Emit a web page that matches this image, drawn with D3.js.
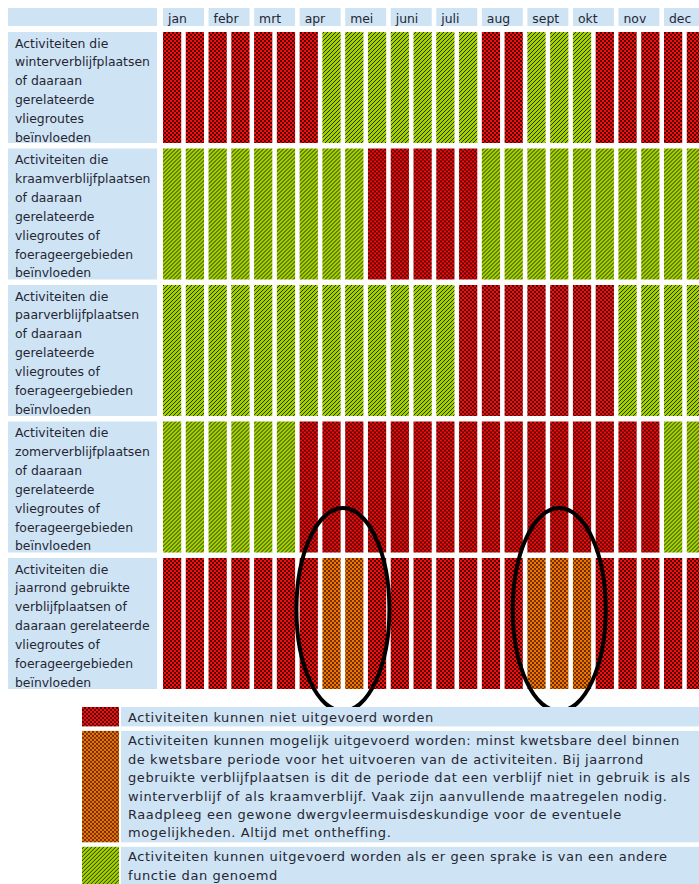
<!DOCTYPE html>
<html>
<head>
<meta charset="utf-8">
<script src="https://cdn.jsdelivr.net/npm/d3@7"></script>
<style>
html, body { margin: 0; padding: 0; background: #fff; }
svg { display: block; font-family: "DejaVu Sans", Verdana, sans-serif; }
</style>
</head>
<body>
<div id="chart"></div>
<script>
// months, every month split in two halves
var months = ["jan", "febr", "mrt", "apr", "mei", "juni", "juli", "aug", "sept", "okt", "nov", "dec"];
var halves = ["a", "b"];

var rowLabels = [
  ["Activiteiten die", "winterverblijfplaatsen", "of daaraan", "gerelateerde", "vliegroutes", "beïnvloeden"],
  ["Activiteiten die", "kraamverblijfplaatsen", "of daaraan", "gerelateerde", "vliegroutes of", "foerageergebieden", "beïnvloeden"],
  ["Activiteiten die", "paarverblijfplaatsen", "of daaraan", "gerelateerde", "vliegroutes of", "foerageergebieden", "beïnvloeden"],
  ["Activiteiten die", "zomerverblijfplaatsen", "of daaraan", "gerelateerde", "vliegroutes of", "foerageergebieden", "beïnvloeden"],
  ["Activiteiten die", "jaarrond gebruikte", "verblijfplaatsen of", "daaraan gerelateerde", "vliegroutes of", "foerageergebieden", "beïnvloeden"]
];

// r = niet, o = mogelijk, g = wel (per half month)
var winter   = ["r","r","r","r","r","r","r","g","g","g","g","g","g","g","r","r","g","g","g","r","r","r","r","r"];
var kraam    = ["g","g","g","g","g","g","g","g","g","r","r","r","r","r","g","g","g","g","g","g","g","g","g","g"];
var paar     = ["g","g","g","g","g","g","g","g","g","g","g","g","g","r","r","r","r","r","r","r","g","g","g","g"];
var zomer    = ["g","g","g","g","g","g","r","r","r","r","r","r","r","r","r","r","r","r","r","r","r","r","g","g"];
var jaarrond = ["r","r","r","r","r","r","r","o","o","r","r","r","r","r","r","r","o","o","o","r","r","r","r","r"];
var statusRows = [winter, kraam, paar, zomer, jaarrond];

var legendKeys = ["r", "o", "g"];
var legendLabels = [
  ["Activiteiten kunnen niet uitgevoerd worden"],
  ["Activiteiten kunnen mogelijk uitgevoerd worden: minst kwetsbare deel binnen",
   "de kwetsbare periode voor het uitvoeren van de activiteiten. Bij jaarrond",
   "gebruikte verblijfplaatsen is dit de periode dat een verblijf niet in gebruik is als",
   "winterverblijf of als kraamverblijf. Vaak zijn aanvullende maatregelen nodig.",
   "Raadpleeg een gewone dwergvleermuisdeskundige voor de eventuele",
   "mogelijkheden. Altijd met ontheffing."],
  ["Activiteiten kunnen uitgevoerd worden als er geen sprake is van een andere",
   "functie dan genoemd"]
];

var width = 699, height = 884;
var blue = "#cee4f4", ink = "#262633";
var fontSize = 12.4, lineH = 18.9, legLineH = 18.4;

var svg = d3.select("#chart").append("svg")
  .attr("width", width)
  .attr("height", height);

// fill patterns
var defs = svg.append("defs");

var pr = defs.append("pattern").attr("id", "pat-r")
  .attr("patternUnits", "userSpaceOnUse").attr("width", 4).attr("height", 4);
pr.append("rect").attr("width", 4).attr("height", 4).attr("fill", "#ff0a0a");
pr.append("rect").attr("width", 2).attr("height", 2).attr("fill", "#000").attr("fill-opacity", 0.7);
pr.append("rect").attr("x", 2).attr("y", 2).attr("width", 2).attr("height", 2).attr("fill", "#000").attr("fill-opacity", 0.7);

var po = defs.append("pattern").attr("id", "pat-o")
  .attr("patternUnits", "userSpaceOnUse").attr("width", 4).attr("height", 4);
po.append("rect").attr("width", 4).attr("height", 4).attr("fill", "#f07400");
po.append("rect").attr("width", 2).attr("height", 2).attr("fill", "#6a2c00");
po.append("rect").attr("x", 2).attr("y", 2).attr("width", 2).attr("height", 2).attr("fill", "#7a3400");

var pg = defs.append("pattern").attr("id", "pat-g")
  .attr("patternUnits", "userSpaceOnUse").attr("width", 4).attr("height", 4);
pg.append("rect").attr("width", 4).attr("height", 4).attr("fill", "#a0d200");
pg.append("path").attr("d", "M-1,1 l2,-2 M0,4 l4,-4 M3,5 l2,-2")
  .attr("stroke", "#202000").attr("stroke-width", 0.9);

var fillFor = { r: "url(#pat-r)", o: "url(#pat-o)", g: "url(#pat-g)" };

// columns
var cols = [];
months.forEach(m => halves.forEach(h => cols.push(m + "-" + h)));

var x = d3.scaleBand()
  .domain(cols)
  .range([163, 705])
  .paddingInner(0.2)
  .paddingOuter(0);

// rows: height follows the number of text lines
var rowTops = [], rowHeights = [];
var yy = 32;
rowLabels.forEach(lines => {
  var h = lines.length * 20 - 9;
  rowTops.push(yy);
  rowHeights.push(h);
  yy += h + 5.5;
});

// header
svg.append("rect")
  .attr("x", 8).attr("y", 8)
  .attr("width", 149).attr("height", 18)
  .attr("fill", blue);

var head = svg.selectAll(".month")
  .data(months)
  .enter().append("g")
  .attr("class", "month");

head.append("rect")
  .attr("x", d => x(d + "-a"))
  .attr("y", 8)
  .attr("width", d => x(d + "-b") + x.bandwidth() - x(d + "-a"))
  .attr("height", 18)
  .attr("fill", blue);

head.append("text")
  .attr("x", d => x(d + "-a") + 5)
  .attr("y", 23)
  .attr("font-size", fontSize)
  .attr("fill", ink)
  .text(d => d);

// row labels
var rows = svg.selectAll(".row")
  .data(rowLabels)
  .enter().append("g")
  .attr("class", "row")
  .attr("transform", (d, i) => "translate(0," + rowTops[i] + ")");

rows.append("rect")
  .attr("x", 8)
  .attr("width", 149)
  .attr("height", (d, i) => rowHeights[i])
  .attr("fill", blue);

rows.append("text")
  .attr("font-size", fontSize)
  .attr("fill", ink)
  .selectAll("tspan")
  .data(d => d)
  .enter().append("tspan")
  .attr("x", 15)
  .attr("y", (d, i) => 15.5 + i * lineH)
  .text(d => d);

// cells
rows.each(function(d, i) {
  d3.select(this).selectAll(".cell")
    .data(statusRows[i])
    .enter().append("rect")
    .attr("class", "cell")
    .attr("x", (s, j) => x(cols[j]))
    .attr("width", x.bandwidth())
    .attr("height", rowHeights[i])
    .attr("fill", s => fillFor[s]);
});

// hand drawn circles around the orange periods of the last row
var last = statusRows.length - 1;
var runs = [];
jaarrond.forEach((s, j) => {
  if (s !== "o") return;
  if (runs.length && runs[runs.length - 1][1] === j - 1) runs[runs.length - 1][1] = j;
  else runs.push([j, j]);
});

svg.selectAll(".ring")
  .data(runs)
  .enter().append("ellipse")
  .attr("class", "ring")
  .attr("cx", r => (x(cols[r[0]]) + x(cols[r[1]]) + x.bandwidth()) / 2)
  .attr("cy", rowTops[last] + rowHeights[last] / 2 - 14)
  .attr("rx", 46.5)
  .attr("ry", 101.5)
  .attr("fill", "none")
  .attr("stroke", "#000")
  .attr("stroke-width", 4);

// legend
var legTops = [], legHeights = [];
yy = 707;
legendLabels.forEach(lines => {
  var h = lines.length * legLineH + 1;
  legTops.push(yy);
  legHeights.push(h);
  yy += h + 4.5;
});

var leg = svg.selectAll(".legend")
  .data(legendKeys)
  .enter().append("g")
  .attr("class", "legend")
  .attr("transform", (d, i) => "translate(0," + legTops[i] + ")");

leg.append("rect")
  .attr("x", 82)
  .attr("width", 37)
  .attr("height", (d, i) => legHeights[i])
  .attr("fill", d => fillFor[d]);

leg.append("rect")
  .attr("x", 121)
  .attr("width", 590)
  .attr("height", (d, i) => legHeights[i])
  .attr("fill", blue);

leg.append("text")
  .attr("font-size", 13)
  .attr("letter-spacing", 0.57)
  .attr("fill", ink)
  .selectAll("tspan")
  .data((d, i) => legendLabels[i])
  .enter().append("tspan")
  .attr("x", 128)
  .attr("y", (d, i) => 14.6 + i * legLineH)
  .text(d => d);
</script>
</body>
</html>
